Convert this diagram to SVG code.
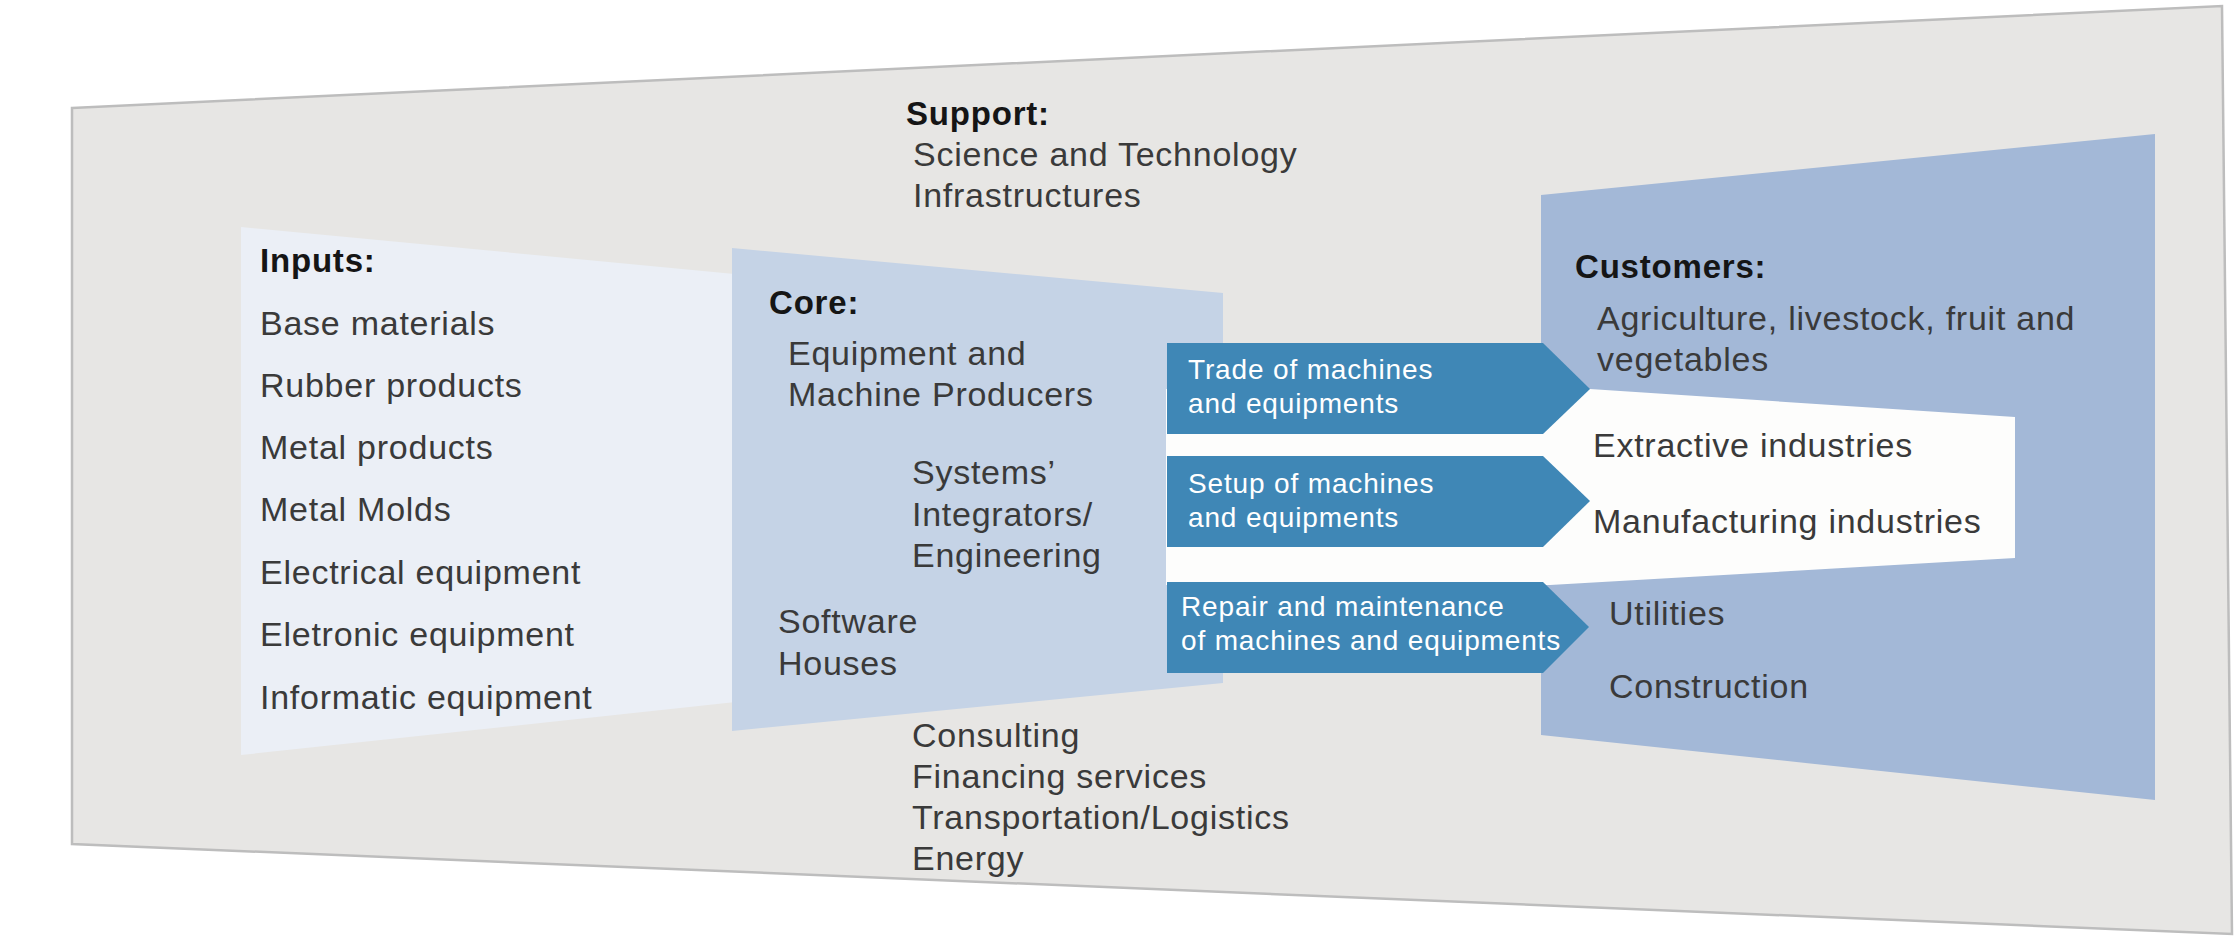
<svg xmlns="http://www.w3.org/2000/svg" width="2236" height="938" viewBox="0 0 2236 938">
  <style>
    text { font-family: "Liberation Sans", Arial, Helvetica, sans-serif; }
    .h { font-size: 33px; font-weight: bold; fill: #151515; letter-spacing: 0.8px; }
    .t { font-size: 34px; fill: #3a3a3a; letter-spacing: 0.75px; }
    .a { font-size: 28px; fill: #ffffff; letter-spacing: 0.85px; }
    .arrow { fill: #3f87b6; }
  </style>
  <rect x="0" y="0" width="2236" height="938" fill="#ffffff"/>
  <g id="support">
    <polygon points="72,108 2222,6 2232,934 72,844" fill="#e7e6e4" stroke="#bdbdbd" stroke-width="2.5"/>
    <text class="h" x="906" y="125">Support:</text>
    <text class="t" x="913" y="166">Science and Technology</text>
    <text class="t" x="913" y="207">Infrastructures</text>
    <text class="t" x="912" y="747">Consulting</text>
    <text class="t" x="912" y="788">Financing services</text>
    <text class="t" x="912" y="829">Transportation/Logistics</text>
    <text class="t" x="912" y="870">Energy</text>
  </g>
  <g id="inputs">
    <polygon points="241,227 745,275 745,701 241,755" fill="#ebeff6"/>
    <text class="h" x="260" y="272">Inputs:</text>
    <text class="t" x="260" y="335">Base materials</text>
    <text class="t" x="260" y="397">Rubber products</text>
    <text class="t" x="260" y="459">Metal products</text>
    <text class="t" x="260" y="521">Metal Molds</text>
    <text class="t" x="260" y="584">Electrical equipment</text>
    <text class="t" x="260" y="646">Eletronic equipment</text>
    <text class="t" x="260" y="709">Informatic equipment</text>
  </g>
  <g id="core">
    <polygon points="732,248 1223,293 1223,683 732,731" fill="#c5d3e6"/>
    <text class="h" x="769" y="314">Core:</text>
    <text class="t" x="788" y="365">Equipment and</text>
    <text class="t" x="788" y="406">Machine Producers</text>
    <text class="t" x="912" y="484">Systems’</text>
    <text class="t" x="912" y="526">Integrators/</text>
    <text class="t" x="912" y="567">Engineering</text>
    <text class="t" x="778" y="633">Software</text>
    <text class="t" x="778" y="675">Houses</text>
  </g>
  <g id="customers">
    <polygon points="1541,195 2155,134 2155,800 1541,735" fill="#a3b8d7"/>
    <polygon points="1166,389 1590,389 2015,417 2015,558 1550,585 1166,585" fill="#fdfdfc"/>
    <text class="h" x="1575" y="278">Customers:</text>
    <text class="t" x="1597" y="330">Agriculture, livestock, fruit and</text>
    <text class="t" x="1597" y="371">vegetables</text>
    <text class="t" x="1593" y="457">Extractive industries</text>
    <text class="t" x="1593" y="533">Manufacturing industries</text>
    <text class="t" x="1609" y="625">Utilities</text>
    <text class="t" x="1609" y="698">Construction</text>
  </g>
  <g id="connectors">
    <g id="trade">
      <polygon class="arrow" points="1167,343 1543,343 1590,389 1543,434 1167,434"/>
      <text class="a" x="1188" y="379">Trade of machines</text>
      <text class="a" x="1188" y="413">and equipments</text>
    </g>
    <g id="setup">
      <polygon class="arrow" points="1167,456 1543,456 1590,501 1543,547 1167,547"/>
      <text class="a" x="1188" y="493">Setup of machines</text>
      <text class="a" x="1188" y="527">and equipments</text>
    </g>
    <g id="repair">
      <polygon class="arrow" points="1167,582 1543,582 1589,627 1543,673 1167,673"/>
      <text class="a" x="1181" y="616">Repair and maintenance</text>
      <text class="a" x="1181" y="650">of machines and equipments</text>
    </g>
  </g>
</svg>
